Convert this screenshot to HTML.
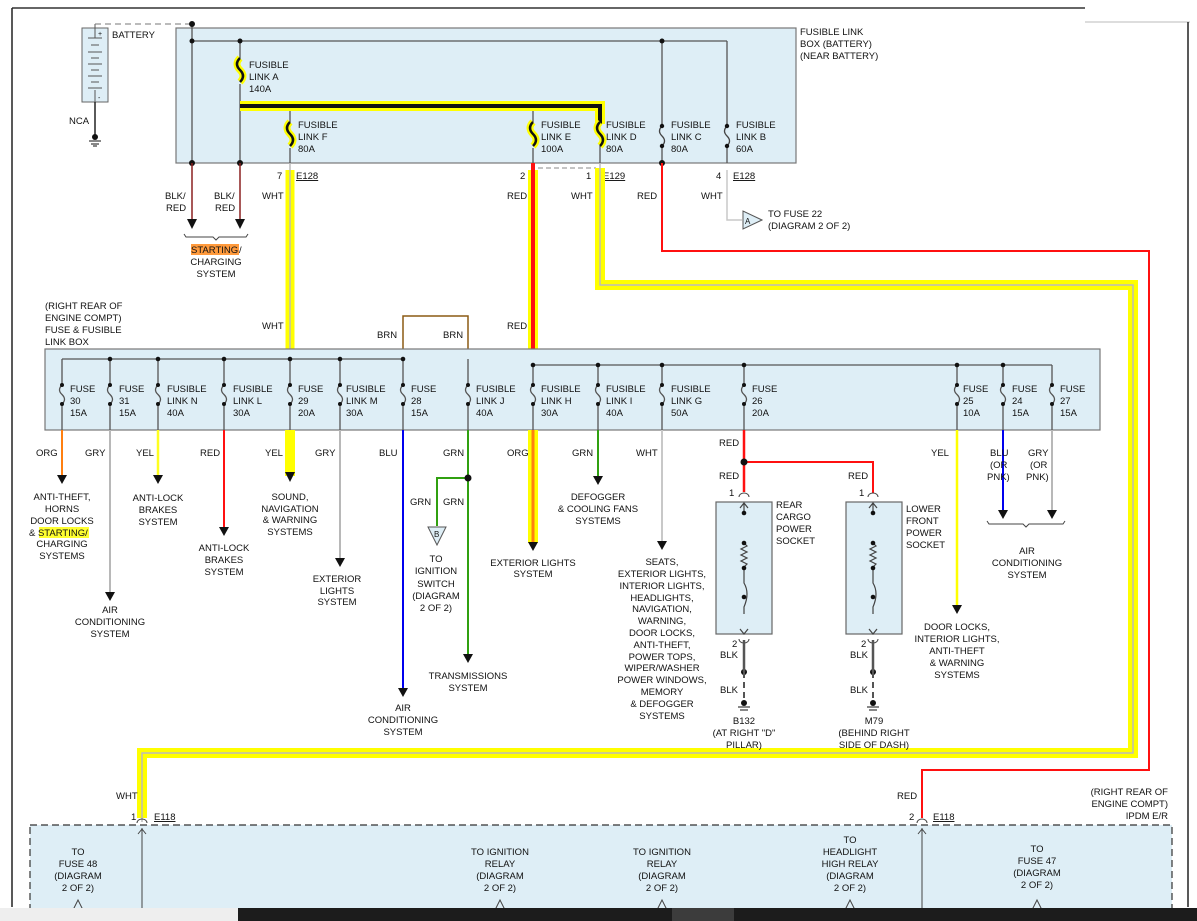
<!DOCTYPE html>
<html><head><meta charset="utf-8"><style>
html,body{margin:0;padding:0;background:#fff;}
svg{display:block;}
text{font-family:"Liberation Sans",sans-serif;font-size:9.5px;fill:#111;}
.m{text-anchor:middle;}
</style></head><body>
<svg width="1197" height="921" viewBox="0 0 1197 921" xmlns="http://www.w3.org/2000/svg">
<!-- frame -->
<rect x="1085" y="0" width="112" height="22" fill="#fff"/>
<line x1="1085" y1="22" x2="1190" y2="22" stroke="#ddd" stroke-width="2"/>
<line x1="12" y1="8" x2="1085" y2="8" stroke="#333" stroke-width="1.5"/>
<line x1="12" y1="8" x2="12" y2="907" stroke="#222" stroke-width="1.5"/>
<line x1="1188" y1="22" x2="1188" y2="907" stroke="#222" stroke-width="1.5"/>

<!-- Fusible link box 1 -->
<rect x="176" y="28" width="620" height="135" fill="#deeef6" stroke="#777" stroke-width="1.2"/>
<text x="800" y="35">FUSIBLE LINK</text><text x="800" y="47">BOX (BATTERY)</text><text x="800" y="59">(NEAR BATTERY)</text>

<!-- battery -->
<rect x="82" y="28" width="26" height="74" fill="#deeef6" stroke="#666"/>
<g stroke="#555" stroke-width="1">
<line x1="88" y1="38" x2="102" y2="38"/><line x1="91" y1="45" x2="99" y2="45"/><line x1="88" y1="52" x2="102" y2="52"/><line x1="91" y1="58" x2="99" y2="58"/><line x1="88" y1="64" x2="102" y2="64"/><line x1="91" y1="70" x2="99" y2="70"/><line x1="88" y1="76" x2="102" y2="76"/><line x1="91" y1="82" x2="99" y2="82"/><line x1="88" y1="88" x2="102" y2="88"/><line x1="95" y1="24" x2="95" y2="38"/><line x1="95" y1="90" x2="95" y2="102"/>
</g>
<text x="98" y="36" style="font-size:7px">+</text><text x="98" y="100" style="font-size:7px">-</text>
<text x="112" y="38">BATTERY</text>
<line x1="95" y1="24" x2="192" y2="24" stroke="#777" stroke-dasharray="6,4"/>
<line x1="95" y1="102" x2="95" y2="135" stroke="#222" stroke-width="1.5"/>
<text x="69" y="124">NCA</text>
<circle cx="95" cy="137" r="3" fill="#111"/>
<line x1="89" y1="141" x2="101" y2="141" stroke="#111"/><line x1="91" y1="144" x2="99" y2="144" stroke="#111"/><line x1="93" y1="146" x2="97" y2="146" stroke="#111"/>

<!-- box1 internals -->
<g stroke="#555" stroke-width="1.3" fill="none">
<line x1="192" y1="24" x2="192" y2="163"/>
<line x1="192" y1="41" x2="727" y2="41"/>
<line x1="240" y1="41" x2="240" y2="58"/>
<line x1="240" y1="84" x2="240" y2="163"/>
<line x1="662" y1="41" x2="662" y2="125"/><line x1="662" y1="146" x2="662" y2="163"/>
<line x1="727" y1="41" x2="727" y2="125"/><line x1="727" y1="146" x2="727" y2="163"/>
<line x1="290" y1="106" x2="290" y2="122"/><line x1="290" y1="148" x2="290" y2="163"/>
<line x1="533" y1="106" x2="533" y2="122"/><line x1="533" y1="148" x2="533" y2="163"/>
</g>
<!-- highlighted bus -->
<polyline points="240,106 600,106 600,124" fill="none" stroke="#ffff00" stroke-width="10"/>
<polyline points="240,106 600,106 600,124" fill="none" stroke="#111" stroke-width="4"/>
<line x1="600" y1="146" x2="600" y2="163" stroke="#555" stroke-width="1.3"/>
<!-- fuses in box1 -->
<g fill="none">
<path d="M240,58 q-6,6 0,12 q6,6 0,12" stroke="#ffff00" stroke-width="7"/>
<path d="M240,58 q-6,6 0,12 q6,6 0,12" stroke="#111" stroke-width="2.5"/>
<path d="M290,122 q-6,6 0,12 q6,6 0,12" stroke="#ffff00" stroke-width="7"/>
<path d="M290,122 q-6,6 0,12 q6,6 0,12" stroke="#111" stroke-width="2.5"/>
<path d="M533,122 q-6,6 0,12 q6,6 0,12" stroke="#ffff00" stroke-width="7"/>
<path d="M533,122 q-6,6 0,12 q6,6 0,12" stroke="#111" stroke-width="2.5"/>
<path d="M600,122 q-6,6 0,12 q6,6 0,12" stroke="#ffff00" stroke-width="7"/>
<path d="M600,122 q-6,6 0,12 q6,6 0,12" stroke="#111" stroke-width="2.5"/>
<path d="M662,126 q-5,5 0,10 q5,5 0,10" stroke="#444" stroke-width="1.3"/>
<path d="M727,126 q-5,5 0,10 q5,5 0,10" stroke="#444" stroke-width="1.3"/>
</g>
<g fill="#111">
<circle cx="192" cy="24" r="3"/><circle cx="192" cy="41" r="2.5"/><circle cx="240" cy="41" r="2.5"/><circle cx="662" cy="41" r="2.5"/>
<circle cx="192" cy="163" r="3"/><circle cx="240" cy="163" r="3"/><circle cx="662" cy="163" r="3"/>
<circle cx="662" cy="126" r="2.2"/><circle cx="662" cy="146" r="2.2"/><circle cx="727" cy="126" r="2.2"/><circle cx="727" cy="146" r="2.2"/>
</g>
<text x="249" y="68">FUSIBLE</text><text x="249" y="80">LINK A</text><text x="249" y="92">140A</text>
<text x="298" y="128">FUSIBLE</text><text x="298" y="140">LINK F</text><text x="298" y="152">80A</text>
<text x="541" y="128">FUSIBLE</text><text x="541" y="140">LINK E</text><text x="541" y="152">100A</text>
<text x="606" y="128">FUSIBLE</text><text x="606" y="140">LINK D</text><text x="606" y="152">80A</text>
<text x="671" y="128">FUSIBLE</text><text x="671" y="140">LINK C</text><text x="671" y="152">80A</text>
<text x="736" y="128">FUSIBLE</text><text x="736" y="140">LINK B</text><text x="736" y="152">60A</text>

<!-- BLK/RED to starting -->
<line x1="192" y1="163" x2="192" y2="222" stroke="#8b2020" stroke-width="1.5"/>
<line x1="240" y1="163" x2="240" y2="222" stroke="#8b2020" stroke-width="1.5"/>
<polygon points="187,219 197,219 192,229" fill="#111"/><polygon points="235,219 245,219 240,229" fill="#111"/>
<text x="165" y="199">BLK/</text><text x="166" y="211">RED</text><text x="214" y="199">BLK/</text><text x="215" y="211">RED</text>
<path d="M184,234 l2,3 h27 l3,3 l3,-3 h27 l2,-3" fill="none" stroke="#444"/>
<rect x="191" y="244" width="48" height="11" fill="#ff9a3c"/>
<text x="191" y="253">STARTING</text><text x="239" y="253">/</text>
<text x="216" y="265" class="m">CHARGING</text><text x="216" y="277" class="m">SYSTEM</text>

<!-- E128 / E129 connectors -->
<text x="277" y="179">7</text><text x="296" y="179" text-decoration="underline">E128</text>
<text x="520" y="179">2</text>
<text x="586" y="179">1</text><text x="603" y="179" text-decoration="underline">E129</text>
<text x="716" y="179">4</text><text x="733" y="179" text-decoration="underline">E128</text>
<line x1="538" y1="168" x2="596" y2="168" stroke="#888" stroke-dasharray="5,3"/>

<!-- WHT 290 -->
<line x1="290" y1="170" x2="290" y2="349" stroke="#ffff00" stroke-width="9"/>
<line x1="290" y1="163" x2="290" y2="359" stroke="#bbb" stroke-width="1.5"/>
<text x="262" y="199">WHT</text><text x="262" y="329">WHT</text>
<!-- RED 533 -->
<line x1="533" y1="170" x2="533" y2="349" stroke="#ffff00" stroke-width="10"/>
<line x1="533" y1="163" x2="533" y2="365" stroke="#ff1010" stroke-width="4"/>
<text x="507" y="199">RED</text><text x="507" y="329">RED</text>
<!-- WHT 600 loop -->
<polyline points="600,168 600,285 1133,285 1133,753 142,753 142,818" fill="none" stroke="#ffff00" stroke-width="10"/>
<polyline points="600,163 600,285 1133,285 1133,753 142,753 142,822" fill="none" stroke="#bbb" stroke-width="1.5"/>
<text x="571" y="199">WHT</text>
<text x="116" y="799">WHT</text>
<text x="131" y="820">1</text><text x="154" y="820" text-decoration="underline">E118</text>
<!-- RED 662 loop -->
<polyline points="662,163 662,251 1149,251 1149,770 922,770 922,818" fill="none" stroke="#ff1010" stroke-width="2"/>
<text x="637" y="199">RED</text>
<text x="897" y="799">RED</text>
<text x="909" y="820">2</text><text x="933" y="820" text-decoration="underline">E118</text>
<!-- WHT 727 to A -->
<polyline points="727,170 727,220 742,220" fill="none" stroke="#c8c8c8" stroke-width="1.5"/>
<text x="701" y="199">WHT</text>
<polygon points="743,211 743,229 762,220" fill="#deeef6" stroke="#555"/>
<text x="745" y="224" style="font-size:8px">A</text>
<text x="768" y="217">TO FUSE 22</text><text x="768" y="229">(DIAGRAM 2 OF 2)</text>

<!-- BRN -->
<polyline points="403,359 403,316 468,316 468,380" fill="none" stroke="#8b5a14" stroke-width="1.5"/>
<text x="377" y="338">BRN</text><text x="443" y="338">BRN</text>

<!-- Box 2 -->
<text x="45" y="309">(RIGHT REAR OF</text><text x="45" y="321">ENGINE COMPT)</text><text x="45" y="333">FUSE &amp; FUSIBLE</text><text x="45" y="345">LINK BOX</text>
<rect x="45" y="349" width="1055" height="81" fill="#deeef6" stroke="#777" stroke-width="1.2"/>
<g stroke="#555" stroke-width="1.3" fill="none">
<line x1="62" y1="359" x2="403" y2="359"/>
<line x1="533" y1="365" x2="1052" y2="365"/>
<line x1="62" y1="359" x2="62" y2="384"/><line x1="110" y1="359" x2="110" y2="384"/><line x1="158" y1="359" x2="158" y2="384"/><line x1="224" y1="359" x2="224" y2="384"/><line x1="290" y1="359" x2="290" y2="384"/><line x1="340" y1="359" x2="340" y2="384"/><line x1="403" y1="359" x2="403" y2="384"/><line x1="468" y1="359" x2="468" y2="384"/>
<line x1="533" y1="365" x2="533" y2="384"/><line x1="598" y1="365" x2="598" y2="384"/><line x1="662" y1="365" x2="662" y2="384"/><line x1="744" y1="365" x2="744" y2="384"/><line x1="957" y1="365" x2="957" y2="384"/><line x1="1003" y1="365" x2="1003" y2="384"/><line x1="1052" y1="365" x2="1052" y2="384"/>
<g id="fz">
<path d="M62,385 q-5,5 0,9.5 q5,5 0,9.5"/><path d="M110,385 q-5,5 0,9.5 q5,5 0,9.5"/><path d="M158,385 q-5,5 0,9.5 q5,5 0,9.5"/><path d="M224,385 q-5,5 0,9.5 q5,5 0,9.5"/><path d="M290,385 q-5,5 0,9.5 q5,5 0,9.5"/><path d="M340,385 q-5,5 0,9.5 q5,5 0,9.5"/><path d="M403,385 q-5,5 0,9.5 q5,5 0,9.5"/><path d="M468,385 q-5,5 0,9.5 q5,5 0,9.5"/><path d="M533,385 q-5,5 0,9.5 q5,5 0,9.5"/><path d="M598,385 q-5,5 0,9.5 q5,5 0,9.5"/><path d="M662,385 q-5,5 0,9.5 q5,5 0,9.5"/><path d="M744,385 q-5,5 0,9.5 q5,5 0,9.5"/><path d="M957,385 q-5,5 0,9.5 q5,5 0,9.5"/><path d="M1003,385 q-5,5 0,9.5 q5,5 0,9.5"/><path d="M1052,385 q-5,5 0,9.5 q5,5 0,9.5"/>
</g>
<line x1="62" y1="404" x2="62" y2="430"/><line x1="110" y1="404" x2="110" y2="430"/><line x1="158" y1="404" x2="158" y2="430"/><line x1="224" y1="404" x2="224" y2="430"/><line x1="290" y1="404" x2="290" y2="430"/><line x1="340" y1="404" x2="340" y2="430"/><line x1="403" y1="404" x2="403" y2="430"/><line x1="468" y1="404" x2="468" y2="430"/><line x1="533" y1="404" x2="533" y2="430"/><line x1="598" y1="404" x2="598" y2="430"/><line x1="662" y1="404" x2="662" y2="430"/><line x1="744" y1="404" x2="744" y2="430"/><line x1="957" y1="404" x2="957" y2="430"/><line x1="1003" y1="404" x2="1003" y2="430"/><line x1="1052" y1="404" x2="1052" y2="430"/>
</g>
<g fill="#111">
<circle cx="110" cy="359" r="2.3"/><circle cx="158" cy="359" r="2.3"/><circle cx="224" cy="359" r="2.3"/><circle cx="290" cy="359" r="2.3"/><circle cx="340" cy="359" r="2.3"/><circle cx="403" cy="359" r="2.3"/>
<circle cx="533" cy="365" r="2.3"/><circle cx="598" cy="365" r="2.3"/><circle cx="662" cy="365" r="2.3"/><circle cx="744" cy="365" r="2.3"/><circle cx="957" cy="365" r="2.3"/><circle cx="1003" cy="365" r="2.3"/>
<circle cx="62" cy="385" r="2"/><circle cx="110" cy="385" r="2"/><circle cx="158" cy="385" r="2"/><circle cx="224" cy="385" r="2"/><circle cx="290" cy="385" r="2"/><circle cx="340" cy="385" r="2"/><circle cx="403" cy="385" r="2"/><circle cx="468" cy="385" r="2"/><circle cx="533" cy="385" r="2"/><circle cx="598" cy="385" r="2"/><circle cx="662" cy="385" r="2"/><circle cx="744" cy="385" r="2"/><circle cx="957" cy="385" r="2"/><circle cx="1003" cy="385" r="2"/><circle cx="1052" cy="385" r="2"/>
<circle cx="62" cy="404" r="2"/><circle cx="110" cy="404" r="2"/><circle cx="158" cy="404" r="2"/><circle cx="224" cy="404" r="2"/><circle cx="290" cy="404" r="2"/><circle cx="340" cy="404" r="2"/><circle cx="403" cy="404" r="2"/><circle cx="468" cy="404" r="2"/><circle cx="533" cy="404" r="2"/><circle cx="598" cy="404" r="2"/><circle cx="662" cy="404" r="2"/><circle cx="744" cy="404" r="2"/><circle cx="957" cy="404" r="2"/><circle cx="1003" cy="404" r="2"/><circle cx="1052" cy="404" r="2"/>
</g>
<g>
<text x="70" y="392">FUSE</text><text x="70" y="404">30</text><text x="70" y="416">15A</text>
<text x="119" y="392">FUSE</text><text x="119" y="404">31</text><text x="119" y="416">15A</text>
<text x="167" y="392">FUSIBLE</text><text x="167" y="404">LINK N</text><text x="167" y="416">40A</text>
<text x="233" y="392">FUSIBLE</text><text x="233" y="404">LINK L</text><text x="233" y="416">30A</text>
<text x="298" y="392">FUSE</text><text x="298" y="404">29</text><text x="298" y="416">20A</text>
<text x="346" y="392">FUSIBLE</text><text x="346" y="404">LINK M</text><text x="346" y="416">30A</text>
<text x="411" y="392">FUSE</text><text x="411" y="404">28</text><text x="411" y="416">15A</text>
<text x="476" y="392">FUSIBLE</text><text x="476" y="404">LINK J</text><text x="476" y="416">40A</text>
<text x="541" y="392">FUSIBLE</text><text x="541" y="404">LINK H</text><text x="541" y="416">30A</text>
<text x="606" y="392">FUSIBLE</text><text x="606" y="404">LINK I</text><text x="606" y="416">40A</text>
<text x="671" y="392">FUSIBLE</text><text x="671" y="404">LINK G</text><text x="671" y="416">50A</text>
<text x="752" y="392">FUSE</text><text x="752" y="404">26</text><text x="752" y="416">20A</text>
<text x="963" y="392">FUSE</text><text x="963" y="404">25</text><text x="963" y="416">10A</text>
<text x="1012" y="392">FUSE</text><text x="1012" y="404">24</text><text x="1012" y="416">15A</text>
<text x="1060" y="392">FUSE</text><text x="1060" y="404">27</text><text x="1060" y="416">15A</text>
</g>

<!-- lower wires -->
<line x1="62" y1="430" x2="62" y2="476" stroke="#ff7f10" stroke-width="2"/>
<line x1="110" y1="430" x2="110" y2="594" stroke="#b8b8b8" stroke-width="2"/>
<line x1="158" y1="430" x2="158" y2="476" stroke="#ffff20" stroke-width="2.5"/>
<line x1="224" y1="430" x2="224" y2="528" stroke="#ff1010" stroke-width="2"/>
<line x1="290" y1="430" x2="290" y2="476" stroke="#ffff00" stroke-width="10"/>
<line x1="340" y1="430" x2="340" y2="560" stroke="#b8b8b8" stroke-width="2"/>
<line x1="403" y1="430" x2="403" y2="690" stroke="#0000ee" stroke-width="2"/>
<line x1="468" y1="430" x2="468" y2="655" stroke="#30a010" stroke-width="2"/>
<polyline points="468,478 437,478 437,526" fill="none" stroke="#30a010" stroke-width="2"/>
<line x1="533" y1="430" x2="533" y2="543" stroke="#ffff00" stroke-width="10"/>
<line x1="533" y1="430" x2="533" y2="543" stroke="#ff7f10" stroke-width="3"/>
<line x1="598" y1="430" x2="598" y2="477" stroke="#30a010" stroke-width="2"/>
<line x1="662" y1="430" x2="662" y2="542" stroke="#c8c8c8" stroke-width="2"/>
<polyline points="744,430 744,492" fill="none" stroke="#ff1010" stroke-width="2.5"/>
<polyline points="744,462 873,462 873,493" fill="none" stroke="#ff1010" stroke-width="2"/>
<line x1="957" y1="430" x2="957" y2="606" stroke="#ffff00" stroke-width="2.5"/>
<line x1="1003" y1="430" x2="1003" y2="512" stroke="#0000ee" stroke-width="2"/>
<line x1="1052" y1="430" x2="1052" y2="512" stroke="#b8b8b8" stroke-width="2"/>
<g fill="#111">
<polygon points="57,475 67,475 62,484"/><polygon points="105,592 115,592 110,601"/><polygon points="153,475 163,475 158,484"/><polygon points="219,527 229,527 224,536"/><polygon points="285,472 295,472 290,482"/><polygon points="335,558 345,558 340,567"/><polygon points="398,688 408,688 403,697"/><polygon points="463,654 473,654 468,663"/><polygon points="528,542 538,542 533,551"/><polygon points="593,476 603,476 598,485"/><polygon points="657,541 667,541 662,550"/><polygon points="952,605 962,605 957,614"/><polygon points="998,510 1008,510 1003,519"/><polygon points="1047,510 1057,510 1052,519"/>
<circle cx="468" cy="478" r="3.5"/><circle cx="744" cy="462" r="3.5"/>
</g>
<polygon points="428,527 446,527 437,545" fill="#deeef6" stroke="#555"/>
<text x="434" y="537" style="font-size:8px">B</text>

<text x="36" y="456">ORG</text><text x="85" y="456">GRY</text><text x="136" y="456">YEL</text><text x="200" y="456">RED</text><text x="265" y="456">YEL</text><text x="315" y="456">GRY</text><text x="379" y="456">BLU</text><text x="443" y="456">GRN</text><text x="507" y="456">ORG</text><text x="572" y="456">GRN</text><text x="636" y="456">WHT</text><text x="719" y="446">RED</text><text x="719" y="479">RED</text><text x="848" y="479">RED</text><text x="931" y="456">YEL</text>
<text x="410" y="505">GRN</text><text x="443" y="505">GRN</text>
<text x="990" y="456">BLU</text><text x="990" y="468">(OR</text><text x="987" y="480">PNK)</text>
<text x="1028" y="456">GRY</text><text x="1030" y="468">(OR</text><text x="1026" y="480">PNK)</text>

<g class="m">
<text x="62" y="500" class="m">ANTI-THEFT,</text><text x="62" y="512" class="m">HORNS</text><text x="62" y="524" class="m">DOOR LOCKS</text>
<text x="62" y="559" class="m">SYSTEMS</text><text x="62" y="547" class="m">CHARGING</text>
<text x="110" y="613" class="m">AIR</text><text x="110" y="625" class="m">CONDITIONING</text><text x="110" y="637" class="m">SYSTEM</text>
<text x="158" y="501" class="m">ANTI-LOCK</text><text x="158" y="513" class="m">BRAKES</text><text x="158" y="525" class="m">SYSTEM</text>
<text x="224" y="551" class="m">ANTI-LOCK</text><text x="224" y="563" class="m">BRAKES</text><text x="224" y="575" class="m">SYSTEM</text>
<text x="290" y="500" class="m">SOUND,</text><text x="290" y="512" class="m">NAVIGATION</text><text x="290" y="523" class="m">&amp; WARNING</text><text x="290" y="535" class="m">SYSTEMS</text>
<text x="337" y="582" class="m">EXTERIOR</text><text x="337" y="594" class="m">LIGHTS</text><text x="337" y="605" class="m">SYSTEM</text>
<text x="403" y="711" class="m">AIR</text><text x="403" y="723" class="m">CONDITIONING</text><text x="403" y="735" class="m">SYSTEM</text>
<text x="436" y="562" class="m">TO</text><text x="436" y="574" class="m">IGNITION</text><text x="436" y="587" class="m">SWITCH</text><text x="436" y="599" class="m">(DIAGRAM</text><text x="436" y="611" class="m">2 OF 2)</text>
<text x="468" y="679" class="m">TRANSMISSIONS</text><text x="468" y="691" class="m">SYSTEM</text>
<text x="533" y="566" class="m">EXTERIOR LIGHTS</text><text x="533" y="577" class="m">SYSTEM</text>
<text x="598" y="500" class="m">DEFOGGER</text><text x="598" y="512" class="m">&amp; COOLING FANS</text><text x="598" y="524" class="m">SYSTEMS</text>
<text x="662" y="565" class="m">SEATS,</text><text x="662" y="577" class="m">EXTERIOR LIGHTS,</text><text x="662" y="589" class="m">INTERIOR LIGHTS,</text><text x="662" y="601" class="m">HEADLIGHTS,</text><text x="662" y="612" class="m">NAVIGATION,</text><text x="662" y="624" class="m">WARNING,</text><text x="662" y="636" class="m">DOOR LOCKS,</text><text x="662" y="648" class="m">ANTI-THEFT,</text><text x="662" y="660" class="m">POWER TOPS,</text><text x="662" y="671" class="m">WIPER/WASHER</text><text x="662" y="683" class="m">POWER WINDOWS,</text><text x="662" y="695" class="m">MEMORY</text><text x="662" y="707" class="m">&amp; DEFOGGER</text><text x="662" y="719" class="m">SYSTEMS</text>
<text x="957" y="630" class="m">DOOR LOCKS,</text><text x="957" y="642" class="m">INTERIOR LIGHTS,</text><text x="957" y="654" class="m">ANTI-THEFT</text><text x="957" y="666" class="m">&amp; WARNING</text><text x="957" y="678" class="m">SYSTEMS</text>
<text x="1027" y="554" class="m">AIR</text><text x="1027" y="566" class="m">CONDITIONING</text><text x="1027" y="578" class="m">SYSTEM</text>
</g>
<rect x="39" y="527" width="50" height="11" fill="#ffff30"/>
<text x="29" y="536">&amp; STARTING/</text>
<path d="M987,521 l2,3 h34 l3,3 l3,-3 h34 l2,-3" fill="none" stroke="#444"/>

<!-- power sockets -->
<g>
<rect x="716" y="502" width="56" height="132" fill="#deeef6" stroke="#666" stroke-width="1.2"/>
<rect x="846" y="502" width="56" height="132" fill="#deeef6" stroke="#666" stroke-width="1.2"/>
<text x="729" y="496">1</text><text x="859" y="496">1</text>
<path d="M739,497 a5,4 0 0 1 10,0" fill="none" stroke="#444"/><path d="M868,497 a5,4 0 0 1 10,0" fill="none" stroke="#444"/>
<g stroke="#444" fill="none" stroke-width="1.2">
<path d="M744,503 v10 M740,508 l4,-5 l4,5"/><path d="M873,503 v10 M869,508 l4,-5 l4,5"/>
<path d="M744,543 l3,3 l-6,3 l6,3 l-6,3 l6,3 l-6,3 l6,3 l-3,3 v16 q6,10 0,24 v7 M740,629 l4,5 l4,-5"/>
<path d="M873,543 l3,3 l-6,3 l6,3 l-6,3 l6,3 l-6,3 l6,3 l-3,3 v16 q6,10 0,24 v7 M869,629 l4,5 l4,-5"/>
</g>
<g fill="#111"><circle cx="744" cy="513" r="2.3"/><circle cx="744" cy="543" r="2.3"/><circle cx="744" cy="568" r="2.3"/><circle cx="744" cy="597" r="2.3"/>
<circle cx="873" cy="513" r="2.3"/><circle cx="873" cy="543" r="2.3"/><circle cx="873" cy="568" r="2.3"/><circle cx="873" cy="597" r="2.3"/>
<circle cx="744" cy="672" r="3"/><circle cx="873" cy="672" r="3"/><circle cx="744" cy="703" r="3"/><circle cx="873" cy="703" r="3"/></g>
<path d="M739,639 a5,4 0 0 0 10,0" fill="none" stroke="#444"/><path d="M868,639 a5,4 0 0 0 10,0" fill="none" stroke="#444"/>
<line x1="744" y1="640" x2="744" y2="672" stroke="#555" stroke-width="2.5"/><line x1="873" y1="640" x2="873" y2="672" stroke="#555" stroke-width="2.5"/>
<line x1="744" y1="672" x2="744" y2="700" stroke="#555" stroke-width="2" stroke-dasharray="6,4"/><line x1="873" y1="672" x2="873" y2="700" stroke="#555" stroke-width="2" stroke-dasharray="6,4"/>
<g stroke="#111"><line x1="738" y1="707" x2="750" y2="707"/><line x1="740" y1="710" x2="748" y2="710"/><line x1="867" y1="707" x2="879" y2="707"/><line x1="869" y1="710" x2="877" y2="710"/></g>
<text x="776" y="508">REAR</text><text x="776" y="520">CARGO</text><text x="776" y="532">POWER</text><text x="776" y="544">SOCKET</text>
<text x="906" y="512">LOWER</text><text x="906" y="524">FRONT</text><text x="906" y="536">POWER</text><text x="906" y="548">SOCKET</text>
<text x="732" y="647">2</text><text x="720" y="658">BLK</text><text x="720" y="693">BLK</text>
<text x="861" y="647">2</text><text x="850" y="658">BLK</text><text x="850" y="693">BLK</text>
<text x="744" y="724" class="m">B132</text><text x="744" y="736" class="m">(AT RIGHT "D"</text><text x="744" y="748" class="m">PILLAR)</text>
<text x="874" y="724" class="m">M79</text><text x="874" y="736" class="m">(BEHIND RIGHT</text><text x="874" y="748" class="m">SIDE OF DASH)</text>
</g>

<!-- IPDM -->
<text x="1168" y="795" text-anchor="end">(RIGHT REAR OF</text><text x="1168" y="807" text-anchor="end">ENGINE COMPT)</text><text x="1168" y="819" text-anchor="end">IPDM E/R</text>
<rect x="30" y="825" width="1142" height="100" fill="#deeef6" stroke="#333" stroke-dasharray="7,4" stroke-width="1.2"/>
<path d="M137,823 a5,4 0 0 1 10,0" fill="none" stroke="#444"/><path d="M917,823 a5,4 0 0 1 10,0" fill="none" stroke="#444"/>
<line x1="142" y1="828" x2="142" y2="921" stroke="#444"/><path d="M138,834 l4,-5 l4,5" fill="none" stroke="#444"/>
<line x1="922" y1="828" x2="922" y2="921" stroke="#444"/><path d="M918,834 l4,-5 l4,5" fill="none" stroke="#444"/>
<g>
<text x="78" y="855" class="m">TO</text><text x="78" y="867" class="m">FUSE 48</text><text x="78" y="879" class="m">(DIAGRAM</text><text x="78" y="891" class="m">2 OF 2)</text>
<text x="500" y="855" class="m">TO IGNITION</text><text x="500" y="867" class="m">RELAY</text><text x="500" y="879" class="m">(DIAGRAM</text><text x="500" y="891" class="m">2 OF 2)</text>
<text x="662" y="855" class="m">TO IGNITION</text><text x="662" y="867" class="m">RELAY</text><text x="662" y="879" class="m">(DIAGRAM</text><text x="662" y="891" class="m">2 OF 2)</text>
<text x="850" y="843" class="m">TO</text><text x="850" y="855" class="m">HEADLIGHT</text><text x="850" y="867" class="m">HIGH RELAY</text><text x="850" y="879" class="m">(DIAGRAM</text><text x="850" y="891" class="m">2 OF 2)</text>
<text x="1037" y="852" class="m">TO</text><text x="1037" y="864" class="m">FUSE 47</text><text x="1037" y="876" class="m">(DIAGRAM</text><text x="1037" y="888" class="m">2 OF 2)</text>
</g>
<g fill="none" stroke="#444"><path d="M73,910 l5,-10 l5,10"/><path d="M495,910 l5,-10 l5,10"/><path d="M657,910 l5,-10 l5,10"/><path d="M845,910 l5,-10 l5,10"/><path d="M1032,910 l5,-10 l5,10"/></g>

<!-- taskbar -->
<rect x="0" y="908" width="238" height="13" fill="#eeeeee"/>
<rect x="238" y="908" width="959" height="13" fill="#1c1c1c"/>
<rect x="672" y="908" width="62" height="13" fill="#3c3c3c"/>
</svg>
</body></html>
